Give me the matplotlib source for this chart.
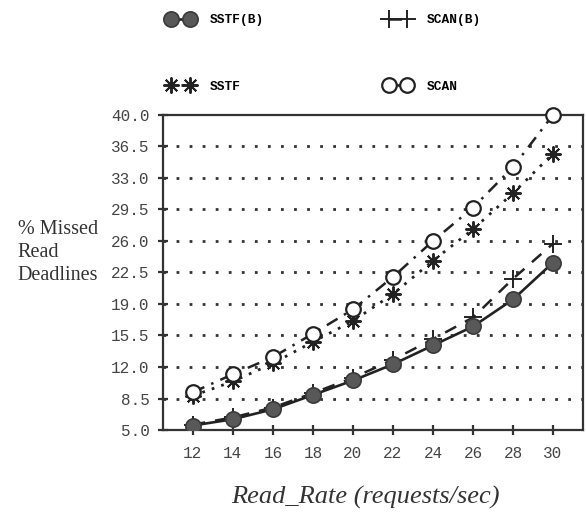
import matplotlib
matplotlib.use("Agg")
import matplotlib.pyplot as plt

# read rate (requests/sec) vs % missed read deadlines
read_rate = [12, 14, 16, 18, 20, 22, 24, 26, 28, 30]
sstf_b = [5.5, 6.2, 7.3, 8.9, 10.5, 12.3, 14.4, 16.5, 19.5, 23.6]
scan_b = [5.6, 6.4, 7.5, 9.1, 10.8, 12.8, 15.1, 17.5, 21.8, 25.7]
sstf = [8.8, 10.4, 12.4, 14.8, 17.1, 20.1, 23.8, 27.3, 31.3, 35.7]
scan = [9.2, 11.2, 13.1, 15.7, 18.4, 22.0, 26.0, 29.7, 34.2, 40.0]

yticks = [5.0, 8.5, 12.0, 15.5, 19.0, 22.5, 26.0, 29.5, 33.0, 36.5, 40.0]

ink = "#222222"
mono = "Liberation Mono"
serif = "Liberation Serif"

fig = plt.figure(figsize=(5.86, 5.15), dpi=100)
ax = fig.add_axes([0.278, 0.165, 0.717, 0.612])

l1, = ax.plot(read_rate, sstf_b, color=ink, lw=1.9, ls="-",
              marker="o", ms=11, mfc="#585858", mec="#3a3a3a", mew=1.2,
              label="SSTF(B)", zorder=4)
l2, = ax.plot(read_rate, scan_b, color=ink, lw=1.8, ls=(0, (5, 4)),
              marker="+", ms=13, mec=ink, mew=1.4,
              label="SCAN(B)", zorder=3)
l3, = ax.plot(read_rate, sstf, color=ink, lw=2.0, ls=(0, (1, 2.6)),
              marker=(8, 2, 0), ms=11.5, mec=ink, mew=1.4,
              label="SSTF", zorder=3)
l4, = ax.plot(read_rate, scan, color=ink, lw=1.8, ls=(0, (5, 3, 1, 3)),
              marker="o", ms=10.5, mfc="white", mec=ink, mew=1.6,
              label="SCAN", zorder=4, clip_on=False)

ax.set_xlim(10.5, 31.5)
ax.set_ylim(5, 40)
ax.set_xticks(read_rate)
ax.set_yticks(yticks)
ax.set_yticklabels(["%.1f" % v for v in yticks])

# dotted guide lines at the inner y ticks
for v in yticks[1:-1]:
    ax.axhline(v, color="#333333", lw=2.0, ls=(0, (1, 3.7)), zorder=1)

for s in ax.spines.values():
    s.set_linewidth(1.6)
    s.set_color("#333333")

ax.tick_params(axis="both", direction="inout", length=7, width=1.6,
               color="#333333", labelcolor="#444444", labelsize=11.5)
ax.tick_params(axis="x", pad=8)
ax.tick_params(axis="y", pad=6)
for lab in ax.get_xticklabels() + ax.get_yticklabels():
    lab.set_fontfamily(mono)

ax.set_xlabel("Read_Rate (requests/sec)", fontfamily=serif, fontstyle="italic",
              fontsize=19, color="#333333")
ax.xaxis.set_label_coords(0.483, -0.178)
fig.text(0.03, 0.51, "% Missed\nRead\nDeadlines", fontfamily=serif,
         fontsize=14.5, color="#333333", ha="left", va="center",
         linespacing=1.3)

fig.legend(handles=[l1, l3, l2, l4], ncol=2, loc="upper left",
           bbox_to_anchor=(0.2705, 0.99), frameon=False, numpoints=2,
           handlelength=2.0, handletextpad=1.25, columnspacing=9.4,
           labelspacing=4.2, borderpad=0.2, markerscale=1.0,
           prop={"family": mono, "size": 9.3, "weight": "bold"})

fig.savefig("out.png", dpi=100)
